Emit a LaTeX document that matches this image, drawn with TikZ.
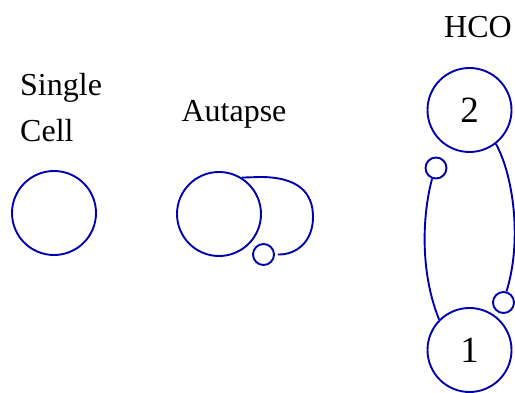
\documentclass[tikz,border=0pt]{standalone}
\usepackage{fontspec}
\setmainfont{Liberation Serif}
\usetikzlibrary{positioning}
\definecolor{cellblue}{RGB}{0,0,175}

\begin{document}
\begin{tikzpicture}[x=1pt,y=1pt,
  cell/.style={circle,draw=cellblue,line width=1.9pt,inner sep=0pt,minimum size=84pt,font=\fontsize{37}{40}\selectfont},
  syn/.style={circle,draw=cellblue,line width=1.9pt,inner sep=0pt,minimum size=21pt},
  lbl/.style={font=\fontsize{32}{46}\selectfont,inner sep=0pt},
  wire/.style={draw=cellblue,line width=1.9pt}
]
  \useasboundingbox (0,0) rectangle (515,392);
  % single cell
  \node[cell] (sc) at (54,179) {};
  \node[lbl,align=left,anchor=west] (sclbl) at (20,284) {Single\\Cell};
  % autapse
  \node[cell] (au) at (219,178) {};
  \node[syn] (aus) at (263.5,137.5) {};
  \draw[wire] (au.58) -- (260,215) .. controls (300,215) and (313,198) .. (313,175)
    .. controls (313,150) and (296,137) .. ([xshift=3pt]aus.east);
  \node[lbl,anchor=base] (aulbl) at (234,270) {Autapse};
  % half-center oscillator
  \node[cell] (n2) at (469.5,282) {2};
  \node[cell] (n1) at (469.5,42) {1};
  \node[syn] (s2) at (436,224) {};
  \node[syn] (s1) at (503.5,89.5) {};
  \draw[wire] (s2.-110) .. controls (423,180) and (419,122) .. (n1.135);
  \draw[wire] (n2.-52) .. controls (514,215) and (522,150) .. (s1.75);
  \node[lbl,anchor=base] (hcolbl) at (478,354) {HCO};
\end{tikzpicture}
\end{document}
